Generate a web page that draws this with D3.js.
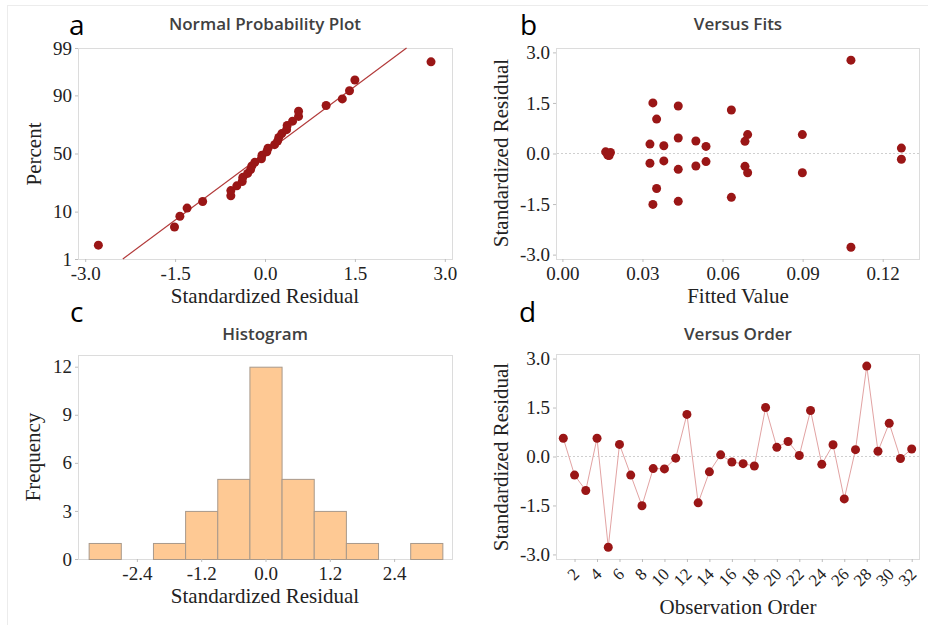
<!DOCTYPE html>
<html>
<head>
<meta charset="utf-8">
<script src="https://cdn.jsdelivr.net/npm/d3@7"></script>
<style>
  body { margin: 0; background: #fff; }
  .tick text { font-family: "Liberation Serif", "Times New Roman", serif; font-size: 19px; fill: #222; }
  .tick line { stroke: #bdbdbd; }
  .title { font-family: "Open Sans", "Noto Sans", sans-serif; font-weight: 600; font-size: 17px; fill: #404040; }
  .letter { font-family: "Open Sans", "Noto Sans", sans-serif; font-size: 28px; fill: #000; }
  .alabel { font-family: "Liberation Serif", "Times New Roman", serif; font-size: 21px; fill: #222; }
</style>
</head>
<body>
<div class="chart"></div>
<script>
// standardized residuals, observation order 1..32
const residuals = [0.56, -0.57, -1.04, 0.56, -2.78, 0.37, -0.57, -1.51, -0.37, -0.38,
  -0.05, 1.29, -1.42, -0.47, 0.05, -0.17, -0.22, -0.29, 1.50, 0.28,
  0.46, 0.03, 1.41, -0.24, 0.36, -1.30, 0.21, 2.77, 0.16, 1.02,
  -0.06, 0.23];
// fitted values, same order
const fits = [0.0694, 0.0694, 0.0353, 0.0899, 0.1081, 0.0500, 0.0899, 0.0339, 0.0500, 0.0684,
  0.0170, 0.0633, 0.0434, 0.0434, 0.0162, 0.1270, 0.0380, 0.0328, 0.0339, 0.0328,
  0.0434, 0.0180, 0.0434, 0.0538, 0.0684, 0.0633, 0.0538, 0.1081, 0.1270, 0.0353,
  0.0175, 0.0380];
// histogram bins (centre) and counts
const binCenters = [-3.0, -2.4, -1.8, -1.2, -0.6, 0.0, 0.6, 1.2, 1.8, 2.4, 3.0];
const binCounts = [1, 0, 1, 3, 5, 12, 5, 3, 1, 0, 1];
const binWidth = 0.6;
// tick labels
const percentTicks = [1, 10, 50, 90, 99];
const residTicksA = [-3.0, -1.5, 0.0, 1.5, 3.0];
const fitTicks = [0.00, 0.03, 0.06, 0.09, 0.12];
const residTicks = [-3.0, -1.5, 0.0, 1.5, 3.0];
const histXTicks = [-2.4, -1.2, 0.0, 1.2, 2.4];
const freqTicks = [0, 3, 6, 9, 12];
const orderTicks = [2, 4, 6, 8, 10, 12, 14, 16, 18, 20, 22, 24, 26, 28, 30, 32];

const ptColor = "#9a1616";

// inverse normal cdf (Acklam)
function probit(p) {
  const a = [-3.969683028665376e+01, 2.209460984245205e+02, -2.759285104469687e+02, 1.383577518672690e+02, -3.066479806614716e+01, 2.506628277459239e+00];
  const b = [-5.447609879822406e+01, 1.615858368580409e+02, -1.556989798598866e+02, 6.680131188771972e+01, -1.328068155288572e+01];
  const c = [-7.784894002430293e-03, -3.223964580411365e-01, -2.400758277161838e+00, -2.549732539343734e+00, 4.374664141464968e+00, 2.938163982698783e+00];
  const d = [7.784695709041462e-03, 3.224671290700398e-01, 2.445134137142996e+00, 3.754408661907416e+00];
  const pl = 0.02425;
  let q, r;
  if (p < pl) {
    q = Math.sqrt(-2 * Math.log(p));
    return (((((c[0]*q+c[1])*q+c[2])*q+c[3])*q+c[4])*q+c[5]) / ((((d[0]*q+d[1])*q+d[2])*q+d[3])*q+1);
  }
  if (p > 1 - pl) {
    q = Math.sqrt(-2 * Math.log(1 - p));
    return -(((((c[0]*q+c[1])*q+c[2])*q+c[3])*q+c[4])*q+c[5]) / ((((d[0]*q+d[1])*q+d[2])*q+d[3])*q+1);
  }
  q = p - 0.5; r = q * q;
  return (((((a[0]*r+a[1])*r+a[2])*r+a[3])*r+a[4])*r+a[5])*q / (((((b[0]*r+b[1])*r+b[2])*r+b[3])*r+b[4])*r+1);
}

const svg = d3.select(".chart").append("svg")
  .attr("width", 928).attr("height", 625);

// faint outer frame
svg.append("rect").attr("x", 7.5).attr("y", 5.5).attr("width", 940).attr("height", 640)
  .attr("fill", "none").attr("stroke", "#ececec");

function frame(x0, x1, y0, y1) {
  svg.append("rect").attr("x", x0 + 0.5).attr("y", y0 + 0.5)
    .attr("width", x1 - x0).attr("height", y1 - y0)
    .attr("fill", "none").attr("stroke", "#dcdcdc");
}
function xAxis(scale, y, ticks, fmt) {
  const g = svg.append("g").attr("transform", `translate(0,${y})`)
    .call(d3.axisBottom(scale).tickValues(ticks).tickFormat(fmt).tickSize(3).tickPadding(5));
  g.select(".domain").remove();
  return g;
}
function yAxis(scale, x, ticks, fmt) {
  const g = svg.append("g").attr("transform", `translate(${x},0)`)
    .call(d3.axisLeft(scale).tickValues(ticks).tickFormat(fmt).tickSize(3).tickPadding(3));
  g.select(".domain").remove();
  return g;
}
function texts(cx, titleY, title, letter, lx, ly, xl, xlY, yl, ylX, ylY) {
  svg.append("text").attr("class", "title").attr("x", cx).attr("y", titleY)
    .attr("text-anchor", "middle").text(title);
  svg.append("text").attr("class", "letter").attr("x", lx).attr("y", ly).text(letter);
  svg.append("text").attr("class", "alabel").attr("x", cx).attr("y", xlY)
    .attr("text-anchor", "middle").text(xl);
  svg.append("text").attr("class", "alabel").attr("text-anchor", "middle")
    .attr("transform", `translate(${ylX},${ylY}) rotate(-90)`).text(yl);
}
const f1 = d => d.toFixed(1);

// ---- a: normal probability plot
const ax = d3.scaleLinear().domain([-3.12, 3.12]).range([78, 452]);
const ay = d3.scaleLinear().domain([probit(0.01), probit(0.99)]).range([259, 48]);
frame(78, 452, 48, 259);
xAxis(ax, 259, residTicksA, f1);
yAxis(ay, 78, percentTicks.map(p => probit(p / 100)), (d, i) => percentTicks[i]);
const sorted = residuals.slice().sort(d3.ascending);
const n = sorted.length;
const mu = d3.mean(residuals), sd = d3.deviation(residuals);
const zr = [probit(0.01), probit(0.99)];
svg.append("line")
  .attr("x1", ax(mu + sd * zr[0])).attr("y1", ay(zr[0]))
  .attr("x2", ax(mu + sd * zr[1])).attr("y2", ay(zr[1]))
  .attr("stroke", "#b23a3a").attr("stroke-width", 1.2);
svg.append("g").selectAll("circle").data(sorted).join("circle")
  .attr("cx", d => ax(d))
  .attr("cy", (d, i) => ay(probit((i + 1 - 0.3) / (n + 0.4))))
  .attr("r", 4.5).attr("fill", ptColor);
texts(265, 30, "Normal Probability Plot", "a", 69, 35, "Standardized Residual", 303, "Percent", 41, 154);

// ---- b: versus fits
const bx = d3.scaleLinear().domain([-0.0024, 0.1336]).range([556, 919]);
const by = d3.scaleLinear().domain([-3.13, 3.13]).range([259, 48]);
frame(556, 919, 48, 259);
svg.append("line").attr("x1", 557).attr("x2", 919).attr("y1", by(0)).attr("y2", by(0))
  .attr("stroke", "#cfcfcf").attr("stroke-dasharray", "2,2");
xAxis(bx, 259, fitTicks, d => d.toFixed(2));
yAxis(by, 556, residTicks, f1);
svg.append("g").selectAll("circle").data(residuals).join("circle")
  .attr("cx", (d, i) => bx(fits[i])).attr("cy", d => by(d))
  .attr("r", 4.5).attr("fill", ptColor);
texts(738, 30, "Versus Fits", "b", 520, 35, "Fitted Value", 303, "Standardized Residual", 508, 153);

// ---- c: histogram
const cx = d3.scaleLinear().domain([-3.48, 3.48]).range([79, 452]);
const cy = d3.scaleLinear().domain([0, 12.73]).range([559, 355]);
frame(78, 452, 355, 559);
svg.append("g").selectAll("rect").data(binCounts).join("rect")
  .attr("x", (d, i) => cx(binCenters[i] - binWidth / 2) + 0.5)
  .attr("width", cx(binWidth) - cx(0))
  .attr("y", d => cy(d) + 0.5)
  .attr("height", d => cy(0) - cy(d))
  .attr("fill", "#fec994")
  .attr("stroke", d => d > 0 ? "#a8998b" : "none");
xAxis(cx, 559, histXTicks, f1);
yAxis(cy, 78, freqTicks, d => d);
texts(265, 340, "Histogram", "c", 70, 322, "Standardized Residual", 603, "Frequency", 40, 457);

// ---- d: versus order
const dx = d3.scaleLinear().domain([0.35, 32.65]).range([556, 919]);
const dy = d3.scaleLinear().domain([-3.14, 3.14]).range([559, 354]);
frame(556, 919, 354, 559);
svg.append("line").attr("x1", 557).attr("x2", 919).attr("y1", dy(0)).attr("y2", dy(0))
  .attr("stroke", "#cfcfcf").attr("stroke-dasharray", "2,2");
const gx = xAxis(dx, 559, orderTicks, d => d);
gx.selectAll("text")
  .attr("x", 0).attr("y", 0).attr("dy", "0.35em")
  .attr("text-anchor", "end")
  .style("font-size", "17px")
  .attr("transform", "translate(1,12) rotate(-45)");
yAxis(dy, 556, residTicks, f1);
svg.append("path").datum(residuals)
  .attr("d", d3.line().x((d, i) => dx(i + 1)).y(d => dy(d)))
  .attr("fill", "none").attr("stroke", "#e2a3a3").attr("stroke-width", 1);
svg.append("g").selectAll("circle").data(residuals).join("circle")
  .attr("cx", (d, i) => dx(i + 1)).attr("cy", d => dy(d))
  .attr("r", 4.5).attr("fill", ptColor);
texts(738, 340, "Versus Order", "d", 519, 322, "Observation Order", 614, "Standardized Residual", 508, 457);
</script>
</body>
</html>
